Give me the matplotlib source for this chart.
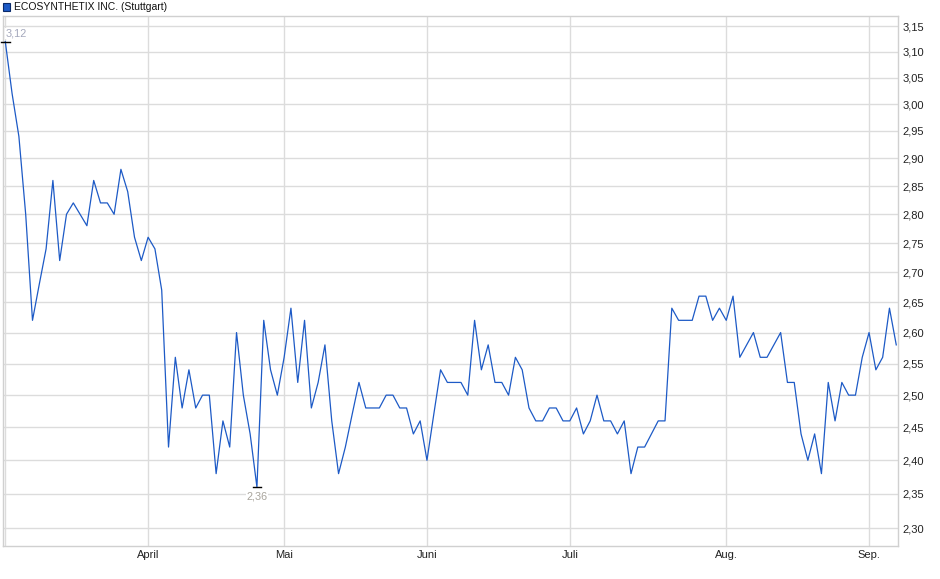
import numpy as np
import matplotlib.pyplot as plt
from matplotlib.ticker import FixedLocator, FuncFormatter, NullLocator
from matplotlib.patches import Rectangle

plt.rcParams['font.family'] = ['Liberation Sans', 'DejaVu Sans']

# Schlusskurse (Handelstage)
prices = [3.12, 3.02, 2.94, 2.80, 2.62, 2.68, 2.74, 2.86, 2.72, 2.80,
          2.82, 2.80, 2.78, 2.86, 2.82, 2.82, 2.80, 2.88, 2.84, 2.76,
          2.72, 2.76, 2.74, 2.67, 2.42, 2.56, 2.48, 2.54, 2.48, 2.50,
          2.50, 2.38, 2.46, 2.42, 2.60, 2.50, 2.44, 2.36, 2.62, 2.54,
          2.50, 2.56, 2.64, 2.52, 2.62, 2.48, 2.52, 2.58, 2.46, 2.38,
          2.42, 2.47, 2.52, 2.48, 2.48, 2.48, 2.50, 2.50, 2.48, 2.48,
          2.44, 2.46, 2.40, 2.47, 2.54, 2.52, 2.52, 2.52, 2.50, 2.62,
          2.54, 2.58, 2.52, 2.52, 2.50, 2.56, 2.54, 2.48, 2.46, 2.46,
          2.48, 2.48, 2.46, 2.46, 2.48, 2.44, 2.46, 2.50, 2.46, 2.46,
          2.44, 2.46, 2.38, 2.42, 2.42, 2.44, 2.46, 2.46, 2.64, 2.62,
          2.62, 2.62, 2.66, 2.66, 2.62, 2.64, 2.62, 2.66, 2.56, 2.58,
          2.60, 2.56, 2.56, 2.58, 2.60, 2.52, 2.52, 2.44, 2.40, 2.44,
          2.38, 2.52, 2.46, 2.52, 2.50, 2.50, 2.56, 2.60, 2.54, 2.56,
          2.64, 2.58]
month_labels = ['April', 'Mai', 'Juni', 'Juli', 'Aug.', 'Sep.']
month_start = [21, 41, 62, 83, 106, 127]
y_ticks = [2.30, 2.35, 2.40, 2.45, 2.50, 2.55, 2.60, 2.65, 2.70, 2.75,
           2.80, 2.85, 2.90, 2.95, 3.00, 3.05, 3.10, 3.15]
title = 'ECOSYNTHETIX INC. (Stuttgart)'

W, H = 940, 579
fig = plt.figure(figsize=(W / 100, H / 100), dpi=100)
ax = fig.add_axes([2.7 / W, 1 - 545.6 / H, (898.3 - 2.7) / W, (545.6 - 16.3) / H])

x = np.arange(len(prices))
ax.plot(x, prices, color='#1d5ac6', lw=0.9, zorder=3)

ax.set_yscale('log')
ax.set_ylim(2.2751, 3.1698)
ax.set_xlim(-0.38, 131.3)

ax.yaxis.tick_right()
ax.yaxis.set_major_locator(FixedLocator(y_ticks))
ax.yaxis.set_minor_locator(NullLocator())
ax.yaxis.set_major_formatter(FuncFormatter(lambda v, p: f'{v:.2f}'.replace('.', ',')))
ax.set_xticks(month_start, month_labels)
ax.set_xticks([0], minor=True)
ax.grid(True, which='major', color='#dcdcdc', lw=1)
ax.grid(True, which='minor', axis='x', color='#dcdcdc', lw=1)
ax.tick_params(which='both', length=0, labelsize=8, colors='#222222')
ax.tick_params(axis='y', pad=3)
ax.tick_params(axis='x', pad=3)
for s in ax.spines.values():
    s.set_color('#d0d0d0')
    s.set_linewidth(1)

# Hoch / Tief markieren
p = np.array(prices)
i_max, i_min = int(p.argmax()), int(p.argmin())
for i, va, off, col in [(i_max, 'bottom', 3, '#a4a8bc'), (i_min, 'top', -4, '#a8a49c')]:
    ax.plot([i - 0.65, i + 0.65], [p[i], p[i]], color='black', lw=1, clip_on=False, zorder=4)
    ax.annotate(f'{p[i]:.2f}'.replace('.', ','), (i, p[i]), xytext=(0, off),
                textcoords='offset pixels', ha='left' if i == i_max else 'center', va=va,
                fontsize=7.8, color=col,
                bbox=dict(facecolor='white', edgecolor='none', pad=0.5), zorder=5)

# Legende
fig.patches.append(Rectangle((3 / W, 1 - 10.5 / H), 7 / W, 7 / H, transform=fig.transFigure,
                             facecolor='#1d5ac6', edgecolor='#0a2a6a', lw=0.8))
fig.text(14 / W, 1 - 6.5 / H, title, fontsize=7.5, va='center', ha='left', color='#111111')

fig.savefig('out.png', dpi=100)
